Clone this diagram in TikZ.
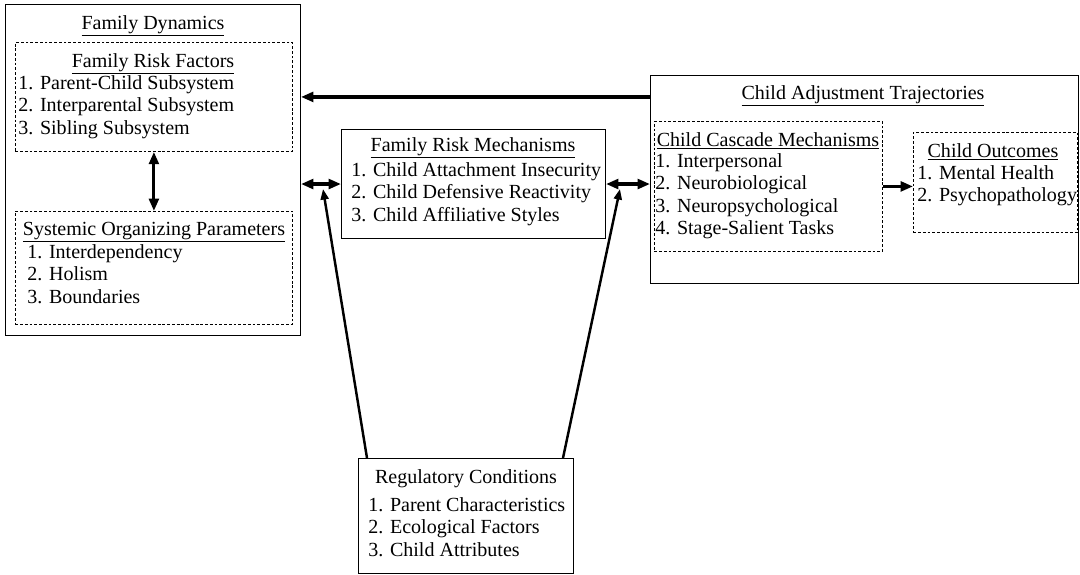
\documentclass[tikz,border=0pt]{standalone}
\usepackage{fontspec}
\setmainfont{Liberation Serif}
\usetikzlibrary{arrows.meta}

\begin{document}
\begin{tikzpicture}[x=0.02cm,y=-0.02cm,
  font=\fontsize{11.4}{12.8}\selectfont,
  box/.style={draw,line width=0.6pt,inner sep=0,anchor=north west},
  dbox/.style={draw,line width=0.5pt,dash pattern=on 1.6pt off 1.1pt,inner sep=0,anchor=north west},
  head/.style={anchor=base,inner sep=0},
  items/.style={align=left,anchor=north west,inner sep=0},
  tip/.tip={Triangle[length=7pt,width=5.5pt]},
  arr/.style={line width=1.8pt,-tip},
  darr/.style={line width=1.8pt,tip-tip},
  reg/.style={line width=1.4pt,-{Triangle[length=6pt,width=4.5pt]}}]
\useasboundingbox (0,0) rectangle (1080,575);

% family dynamics
\node [box,minimum width=5.9cm,minimum height=6.62cm] (fd) at (5,4) {};
\node [head] (fdt) at (153,29) {\underline{Family Dynamics}};
\node [dbox,minimum width=5.54cm,minimum height=2.18cm] (frf) at (15,42) {};
\node [head] (frft) at (153,67) {\underline{Family Risk Factors}};
\node [items] (frfl) at (18,75) {1. Parent-Child Subsystem\\2. Interparental Subsystem\\3. Sibling Subsystem};
\node [dbox,minimum width=5.54cm,minimum height=2.26cm] (sop) at (15,211) {};
\node [head] (sopt) at (154,235) {\underline{Systemic Organizing Parameters}};
\node [items] (sopl) at (27,244) {1. Interdependency\\2. Holism\\3. Boundaries};

% mechanisms
\node [box,minimum width=5.28cm,minimum height=2.18cm] (frm) at (341,129) {};
\node [head] (frmt) at (473,151) {\underline{Family Risk Mechanisms}};
\node [items] (frml) at (351,162) {1. Child Attachment Insecurity\\2. Child Defensive Reactivity\\3. Child Affiliative Styles};

% child adjustment
\node [box,minimum width=8.56cm,minimum height=4.16cm] (cat) at (650,75) {};
\node [head] (catt) at (863,99) {\underline{Child Adjustment Trajectories}};
\node [dbox,minimum width=4.56cm,minimum height=2.6cm] (ccm) at (654,121) {};
\node [head] (ccmt) at (768,146) {\underline{Child Cascade Mechanisms}};
\node [items] (ccml) at (655,153) {1. Interpersonal\\2. Neurobiological\\3. Neuropsychological\\4. Stage-Salient Tasks};
\node [dbox,minimum width=3.28cm,minimum height=2cm] (co) at (913,132) {};
\node [head] (cot) at (993,157) {\underline{Child Outcomes}};
\node [items] (col) at (917,165) {1. Mental Health\\2. Psychopathology};

% regulatory
\node [box,minimum width=4.3cm,minimum height=2.3cm] (rc) at (358,458) {};
\node [head] (rct) at (466,483) {Regulatory Conditions};
\node [items] (rcl) at (368,497) {1. Parent Characteristics\\2. Ecological Factors\\3. Child Attributes};

\coordinate (ls) at (367,458);
\coordinate (rs) at (563,458);
\coordinate (lm) at (323,189);
\coordinate (rm) at (620,189);

\draw [arr] (cat.west |- frf.center) -- (fd.east |- frf.center);
\draw [darr] (frf.south) -- (sop.north);
\draw [darr] (fd.east |- frm.west) -- (frm.west);
\draw [darr] (frm.east) -- (cat.west |- frm.east);
\draw [arr] (ccm.east) -- (co.west |- ccm.east);
\draw [reg] (ls) -- (lm);
\draw [reg] (rs) -- (rm);

\end{tikzpicture}
\end{document}
